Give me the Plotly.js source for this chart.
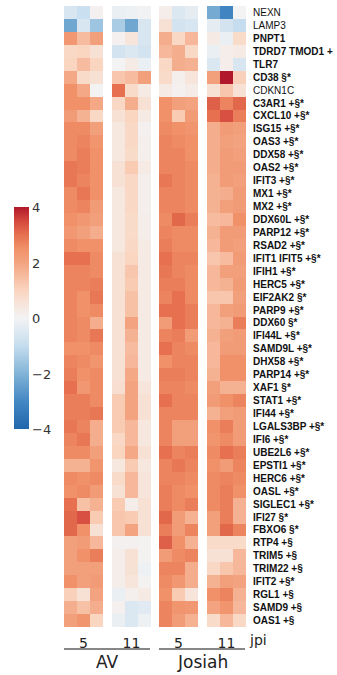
<!DOCTYPE html>
<html><head><meta charset="utf-8">
<script src="https://cdn.plot.ly/plotly-3.0.1.min.js"></script>
<style>html,body{margin:0;padding:0;background:#fff}</style>
</head><body><div id="chart" style="width:337px;height:675px"></div>
<script>
const genes = ["NEXN","LAMP3","PNPT1","TDRD7 TMOD1 +","TLR7","CD38 §*","CDKN1C","C3AR1 +§*","CXCL10 +§*","ISG15 +§*","OAS3 +§*","DDX58 +§*","OAS2 +§*","IFIT3 +§*","MX1 +§*","MX2 +§*","DDX60L +§*","PARP12 +§*","RSAD2 +§*","IFIT1 IFIT5 +§*","IFIH1 +§*","HERC5 +§*","EIF2AK2 §*","PARP9 +§*","DDX60 §*","IFI44L +§*","SAMD9L +§*","DHX58 +§*","PARP14 +§*","XAF1 §*","STAT1 +§*","IFI44 +§*","LGALS3BP +§*","IFI6 +§*","UBE2L6 +§*","EPSTI1 +§*","HERC6 +§*","OASL +§*","SIGLEC1 +§*","IFI27 §*","FBXO6 §*","RTP4 +§","TRIM5 +§","TRIM22 +§","IFIT2 +§*","RGL1 +§","SAMD9 +§","OAS1 +§"];
const plainGenes = ["NEXN","LAMP3","CDKN1C"];
const groups = ["AV","Josiah"];
const timepoints = ["5","11","5","11"];
const timeUnit = "jpi";

const av5 = [[-0.6,-0.9,0.1],[-2.3,-0.6,-1.6],[2.3,1.5,2.1],[0.9,1.0,0.6],[1.0,1.5,1.0],[1.9,0.8,0.6],[2.5,1.9,0],[2.5,2.5,1.9],[2.2,1.7,0.9],[2.6,2.6,2.1],[2.6,2.7,2.4],[2.6,2.8,2.5],[2.9,2.8,2.5],[2.9,2.7,2.5],[2.6,2.9,2.5],[2.6,2.7,2.2],[2.5,2.3,2.1],[2.3,2.1,1.8],[2.6,2.5,2.5],[3.0,3.0,2.6],[2.7,2.7,2.6],[2.7,2.7,2.8],[2.7,2.5,2.9],[2.7,2.5,2.6],[2.7,2.6,1.8],[2.7,2.6,2.9],[2.5,2.5,2.6],[2.7,2.6,2.4],[2.8,2.5,2.6],[3.0,2.3,2.6],[2.8,2.8,2.6],[2.8,2.8,2.9],[2.9,2.7,1.8],[2.7,2.9,1.8],[2.6,2.6,2.1],[1.7,1.7,2.4],[2.6,2.5,2.6],[2.5,2.6,2.2],[3.0,1.4,1.7],[3.1,3.4,1.2],[3.1,2.5,0.6],[2.1,2.2,1.6],[2.1,2.5,2.8],[2.1,2.1,2.1],[2.5,2.1,2.2],[1.1,0.6,2.0],[1.8,1.4,1.8],[2.1,2.4,1.0]];
const av11 = [[-0.2,-0.1,-0.05],[-1.4,-2.3,-0.6],[0.1,0.5,-0.6],[-0.7,-0.5,-0.7],[0,0.3,-0.2],[1.3,1.5,2.1],[3.0,0.8,0.3],[0.9,1.8,0.6],[0.6,1.0,0.3],[0.4,0.9,0.1],[0.4,0.9,0.15],[0.4,0.8,0.15],[0.6,1.2,0.3],[0.6,0.9,0.15],[0.4,0.9,0.15],[0.4,0.9,0.15],[0.4,0.8,0.2],[0.4,0.8,0.2],[0.4,0.9,0.3],[0.6,1.0,0.3],[0.6,1.3,0.3],[0.6,1.2,0.3],[0.6,1.4,0.3],[0.6,1.4,0.3],[0.6,2.0,0.3],[0.6,1.7,0.3],[0.6,1.5,0.3],[0.6,1.6,0.3],[0.6,1.9,0.3],[0.7,2.0,0.5],[1.2,2.0,0.6],[1.2,2.0,0.6],[1.2,1.6,0.4],[0.9,1.6,0.4],[1.0,1.9,0.6],[0.4,1.2,0.4],[0.8,1.6,0.5],[0.6,1.6,0.5],[1.2,0.2,0.6],[1.3,1.2,0.6],[1.3,2.0,0.6],[0.1,0.1,0.05],[0.2,0.6,0.05],[0.2,0.6,-0.1],[0.2,0.5,0.05],[-0.2,0.15,0.3],[0.1,-0.5,-0.4],[-0.2,-0.5,-0.1]];
const jos5 = [[0.2,-0.5,-0.3],[0.6,-0.7,-0.6],[1.8,0.9,1.6],[1.6,1.8,0.9],[0.9,1.8,1.7],[0.8,0.15,0.5],[0.3,0.1,0.25],[2.5,2.1,2.0],[2.5,1.2,2.2],[2.6,2.5,2.4],[2.7,2.6,2.5],[2.7,2.7,2.5],[2.7,2.7,2.6],[2.9,2.7,2.6],[2.7,2.7,2.6],[2.7,2.7,2.6],[2.6,3.1,2.8],[2.7,2.6,2.6],[2.8,2.6,2.6],[3.0,2.7,2.7],[2.9,2.7,2.6],[2.8,2.8,2.6],[2.7,3.0,2.6],[3.0,3.0,2.8],[2.2,3.0,2.8],[2.7,2.8,2.2],[3.0,2.7,2.6],[2.5,2.7,2.7],[2.8,2.8,2.7],[2.7,2.7,2.6],[3.0,2.7,2.7],[2.7,2.7,2.7],[2.7,2.1,2.1],[2.7,2.1,2.1],[3.0,2.7,2.8],[2.7,2.9,2.7],[2.7,2.7,2.6],[2.8,2.6,2.5],[2.8,2.6,2.8],[3.1,2.2,1.7],[2.8,2.2,2.7],[3.2,2.5,1.7],[2.2,2.6,2.7],[2.7,2.7,1.8],[2.6,2.3,1.8],[2.5,1.2,0.5],[2.7,2.4,2.3],[2.7,2.2,1.7]];
const jos11 = [[-2.2,-3.1,0],[-0.3,-0.7,-1.0],[0.3,-0.2,0.8],[-0.2,0.2,0.3],[-0.5,0.2,-0.6],[2.1,4.0,1.1],[0.6,1.3,0.6],[3.2,2.7,3.1],[3.0,3.4,2.8],[1.8,2.2,2.1],[1.8,2.1,2.0],[1.8,2.2,2.1],[1.8,2.2,2.2],[1.7,2.2,2.1],[1.7,1.8,2.2],[1.7,2.1,2.2],[1.5,1.6,2.5],[1.7,2.2,2.2],[1.6,2.2,2.1],[1.3,1.5,2.2],[1.6,2.1,2.1],[1.6,1.7,2.2],[1.3,1.3,2.1],[1.6,2.1,2.2],[1.6,1.7,2.8],[1.7,2.1,2.2],[1.6,2.2,2.2],[1.6,2.5,2.5],[1.7,2.5,2.5],[2.1,1.7,1.7],[2.2,2.5,2.7],[1.7,2.1,2.2],[2.5,2.8,2.2],[2.4,2.6,2.2],[2.6,3.0,2.8],[2.5,2.2,2.7],[2.6,2.7,2.6],[2.6,2.8,2.5],[2.6,2.8,1.7],[2.1,2.8,1.7],[2.1,3.1,2.7],[0.8,0.8,0.8],[0.6,0.6,1.6],[0.9,1.3,1.6],[1.7,2.1,2.0],[2.5,2.7,1.7],[2.0,2.4,1.6],[0.8,1.6,0.9]];

const colorscale = [
  [0, '#2166ac'], [0.125, 'rgb(67,135,195)'], [0.25, 'rgb(130,180,215)'],
  [0.375, 'rgb(197,221,238)'], [0.5, 'rgb(243,243,244)'], [0.625, 'rgb(250,213,192)'],
  [0.75, 'rgb(243,163,128)'], [0.8125, 'rgb(240,145,105)'], [0.875, 'rgb(230,112,80)'],
  [0.9375, 'rgb(212,72,62)'], [1, 'rgb(178,24,43)']
];

const W = 337, H = 675;
const px = v => v / W, py = v => 1 - v / H;
const colDomains = [[64,103],[112,151],[159,198],[207,246]];
const dataSets = [av5, av11, jos5, jos11];
const axNames = ['x','x2','x3','x4'];

const traces = dataSets.map((z, i) => ({
  type: 'heatmap', z: z, x: [0,1,2], y: genes,
  xaxis: axNames[i], yaxis: 'y',
  zmin: -4, zmax: 4, colorscale: colorscale,
  showscale: i === 0,
  hoverongaps: false,
  colorbar: i === 0 ? {
    x: px(14), xanchor: 'left', xpad: 0, ypad: 0,
    y: py(318.5), yanchor: 'middle', len: 222, lenmode: 'pixels',
    thickness: 15, outlinewidth: 0, ticks: '',
    tickvals: [-4,-2,0,2,4], ticktext: ['−4','−2','0','2','4'],
    tickfont: {family: 'DejaVu Sans', size: 13, color: '#333'}
  } : undefined
}));

const annFont = s => ({family: 'DejaVu Sans', size: s, color: '#222'});
const layout = {
  width: W, height: H, margin: {l:0, r:0, t:0, b:0},
  paper_bgcolor: '#fff', plot_bgcolor: '#fff', showlegend: false,
  yaxis: {
    domain: [py(627), py(6)], anchor: 'x4', side: 'right', type: 'category',
    autorange: 'reversed', tickmode: 'array', tickvals: genes,
    ticktext: genes.map(g => plainGenes.includes(g) ? g : '<b>' + g + '</b>'),
    ticks: 'outside', ticklen: 4, tickcolor: 'rgba(0,0,0,0)',
    tickfont: {family: 'Liberation Sans, Arial', size: 10, color: '#111'},
    showgrid: false, zeroline: false, showline: false
  },
  annotations: [
    {text: timeUnit, x: px(258), y: py(640), xref: 'paper', yref: 'paper', xanchor: 'center', yanchor: 'middle', showarrow: false, font: annFont(14)},
    {text: groups[0], x: px(107), y: py(662), xref: 'paper', yref: 'paper', xanchor: 'center', yanchor: 'middle', showarrow: false, font: annFont(17)},
    {text: groups[1], x: px(202), y: py(662), xref: 'paper', yref: 'paper', xanchor: 'center', yanchor: 'middle', showarrow: false, font: annFont(17)}
  ],
  shapes: [
    {type: 'line', xref: 'paper', yref: 'paper', x0: px(64), x1: px(150), y0: py(649), y1: py(649), line: {color: '#111', width: 1.2}},
    {type: 'line', xref: 'paper', yref: 'paper', x0: px(159), x1: px(245), y0: py(649), y1: py(649), line: {color: '#111', width: 1.2}}
  ]
};
axNames.forEach((a, i) => {
  const key = i === 0 ? 'xaxis' : 'xaxis' + (i + 1);
  layout[key] = {
    domain: [px(colDomains[i][0]), px(colDomains[i][1])], anchor: 'y',
    range: [-0.5, 2.5], tickmode: 'array', tickvals: [1], ticktext: [timepoints[i]],
    ticks: 'outside', ticklen: 3, tickcolor: 'rgba(0,0,0,0)',
    tickfont: annFont(14),
    showgrid: false, zeroline: false, showline: false, fixedrange: true
  };
});

Plotly.newPlot('chart', traces, layout, {displayModeBar: false, staticPlot: true});
</script></body></html>
